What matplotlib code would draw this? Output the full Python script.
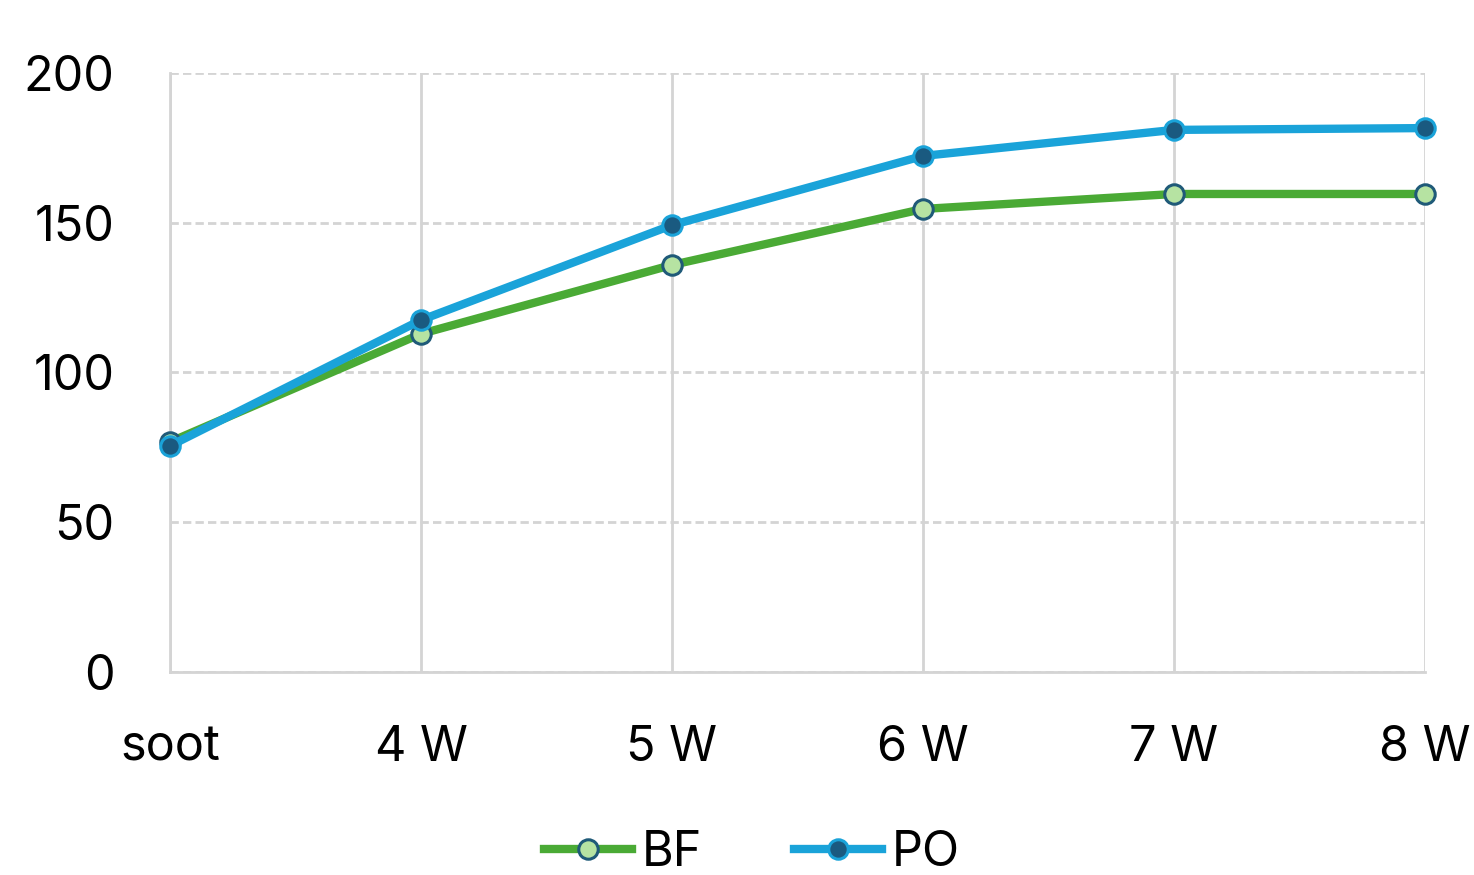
import matplotlib
import matplotlib.pyplot as plt

matplotlib.use("Agg")

categories = ["soot", "4 W", "5 W", "6 W", "7 W", "8 W"]
bf_values = [76.8, 112.9, 135.9, 154.6, 159.6, 159.6]
po_values = [75.5, 117.5, 149.2, 172.3, 181.0, 181.6]
y_ticks = [0, 50, 100, 150, 200]

plt.rcParams["font.family"] = ["Inter", "DejaVu Sans"]

fig = plt.figure(figsize=(14.74, 8.75), dpi=100)
ax = fig.add_axes([0.1153, 0.232, 0.8515, 0.6846])

x = range(len(categories))
ax.plot(x, bf_values, color="#4aaa35", lw=6, marker="o", ms=14,
        mfc="#b6e3a2", mec="#1f5a78", mew=2.2, label="BF", zorder=3, clip_on=False)
ax.plot(x, po_values, color="#1aa3d9", lw=6, marker="o", ms=14,
        mfc="#1a5a80", mec="#1aa3d9", mew=2.2, label="PO", zorder=4, clip_on=False)

ax.set_xlim(0, len(categories) - 1)
ax.set_ylim(0, 200)
ax.set_xticks(list(x))
ax.set_xticklabels(categories)
ax.set_yticks(y_ticks)

ax.yaxis.grid(True, color="#d4d4d4", lw=2, ls=(0, (3, 1.5)))
ax.xaxis.grid(True, color="#d4d4d4", lw=2)
ax.set_axisbelow(True)
for side in ("top", "right"):
    ax.spines[side].set_visible(False)
for side in ("left", "bottom"):
    ax.spines[side].set_color("#d4d4d4")
    ax.spines[side].set_linewidth(2)

ax.tick_params(axis="both", length=0, labelsize=35, colors="black")
ax.tick_params(axis="x", pad=38)
ax.tick_params(axis="y", pad=40)

fig.legend(loc="center", bbox_to_anchor=(0.51, 0.025), ncol=2, frameon=False,
           fontsize=35, handlelength=1.8, handletextpad=0.2, columnspacing=1.9)

fig.savefig("out.png", dpi=100)
